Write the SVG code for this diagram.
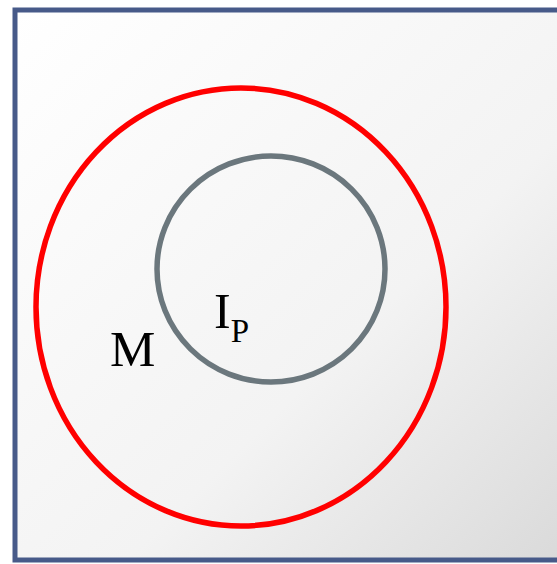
<svg xmlns="http://www.w3.org/2000/svg" width="557" height="564" viewBox="0 0 557 564">
<defs>
<linearGradient id="bg" x1="0" y1="0" x2="1" y2="1">
<stop offset="0" stop-color="#ffffff"/>
<stop offset="0.6" stop-color="#f3f3f3"/>
<stop offset="1" stop-color="#d9d9d9"/>
</linearGradient>
</defs>
<style>
.t{font-family:"Liberation Serif","Times New Roman",serif;fill:#000}
</style>
<rect x="0" y="0" width="557" height="564" fill="#ffffff"/>
<g id="frame"><rect x="15" y="10" width="560" height="550" fill="url(#bg)" stroke="#475a89" stroke-width="5"/></g>
<g id="M"><ellipse cx="241" cy="307" rx="205" ry="219" fill="none" stroke="#ff0000" stroke-width="5.5"/>
<text class="t" x="110" y="366" font-size="51">M</text></g>
<g id="IP"><ellipse cx="271" cy="269" rx="114" ry="113" fill="none" stroke="#6b777d" stroke-width="5.5"/>
<text class="t" x="214" y="328" font-size="50">I<tspan font-size="33" dy="14">P</tspan></text></g>
<g id="connectors"/>
</svg>
